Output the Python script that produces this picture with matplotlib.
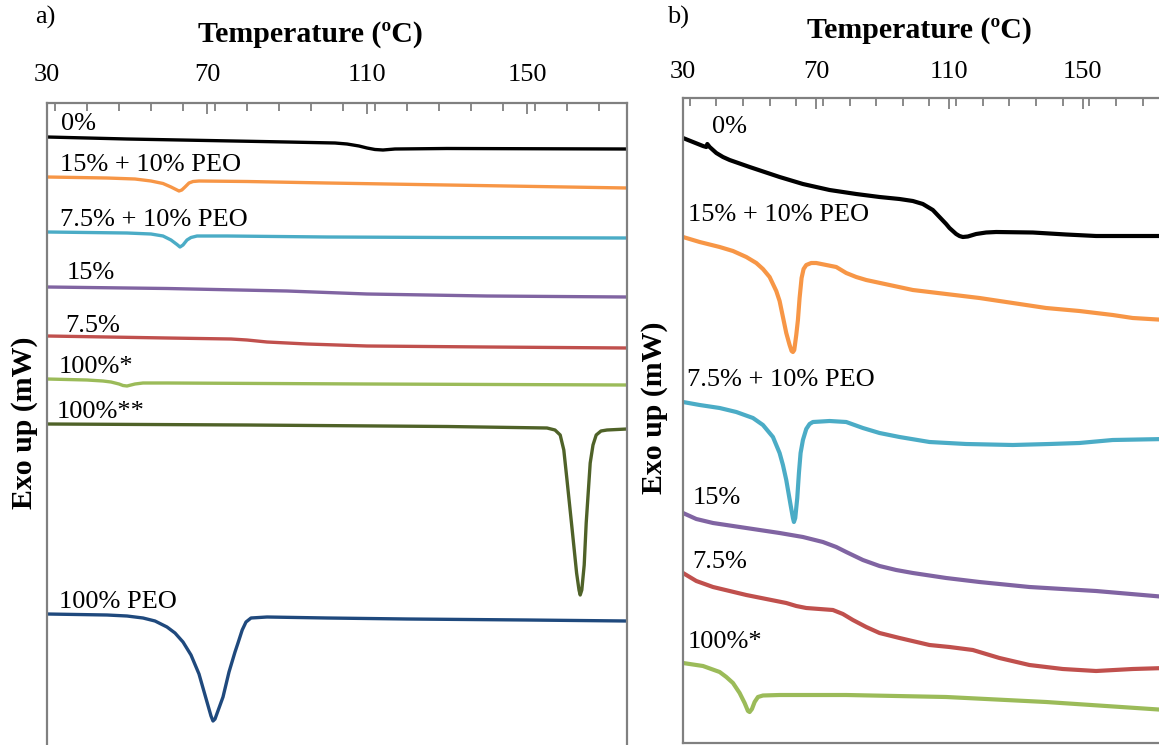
import matplotlib
matplotlib.use('Agg')
import matplotlib.pyplot as plt
from matplotlib.ticker import MultipleLocator

plt.rcParams['font.family'] = ['Liberation Serif', 'DejaVu Serif']

# ---- panel a data (temperature in C, heat flow in arbitrary mW offsets) ----
a_0_T = [30, 50, 70, 90, 102, 105, 108, 110, 112, 114, 117, 130, 175]
a_0_y = [6.23, 6.21, 6.195, 6.18, 6.17, 6.16, 6.14, 6.12, 6.105, 6.10, 6.11, 6.115, 6.11]
a_15peo_T = [30, 45, 52, 56, 59, 61, 62.5, 63, 63.7, 64.5, 65.5, 66.5, 68, 80, 100, 130, 175]
a_15peo_y = [5.83, 5.82, 5.81, 5.79, 5.765, 5.73, 5.70, 5.69, 5.70, 5.73, 5.77, 5.785, 5.79, 5.785, 5.77, 5.75, 5.72]
a_75peo_T = [30, 50, 56, 59, 61, 62.5, 63.25, 64, 65, 66, 67.5, 75, 100, 130, 175]
a_75peo_y = [5.28, 5.27, 5.26, 5.24, 5.20, 5.155, 5.13, 5.15, 5.20, 5.225, 5.24, 5.24, 5.23, 5.225, 5.22]
a_15_T = [30, 60, 90, 110, 140, 175]
a_15_y = [4.73, 4.715, 4.69, 4.66, 4.64, 4.63]
a_75_T = [30, 60, 76, 80, 85, 95, 110, 140, 175]
a_75_y = [4.24, 4.22, 4.21, 4.20, 4.18, 4.16, 4.14, 4.13, 4.12]
a_100s_T = [30, 40, 44, 46, 48, 49, 50, 51, 52, 54, 60, 110, 175]
a_100s_y = [3.81, 3.80, 3.79, 3.78, 3.76, 3.745, 3.74, 3.75, 3.76, 3.77, 3.77, 3.76, 3.75]
a_100ss_T = [30, 80, 130, 155, 157, 158.3, 159.2, 160, 161.3, 162.4, 163, 163.3, 163.7,
             164.3, 164.8, 165.8, 166.5, 167.3, 168.5, 170, 175]
a_100ss_y = [3.36, 3.35, 3.335, 3.32, 3.30, 3.25, 3.10, 2.80, 2.30, 1.87, 1.70, 1.65, 1.70,
             1.95, 2.37, 2.97, 3.15, 3.25, 3.29, 3.30, 3.31]
a_peo_T = [30, 45, 50, 54, 57, 60, 62, 64, 66, 68, 70, 71, 71.5, 72, 73, 74, 75.5, 77,
           77.75, 78.8, 79.75, 81, 85, 100, 120, 150, 175]
a_peo_y = [1.46, 1.45, 1.44, 1.42, 1.39, 1.33, 1.27, 1.18, 1.05, 0.86, 0.58, 0.44, 0.39, 0.41,
           0.52, 0.63, 0.88, 1.08, 1.17, 1.30, 1.38, 1.42, 1.43, 1.42, 1.41, 1.40, 1.39]

# ---- panel b data ----
b_0_T = [30, 33, 36, 37, 37.3, 38, 40, 42, 44, 50, 59, 66, 74, 82, 89, 95, 99, 102, 105,
         107, 109, 110, 112, 113, 114, 115.5, 118, 121, 124, 135, 145, 154, 175]
b_0_y = [6.05, 6.01, 5.97, 5.96, 5.99, 5.96, 5.90, 5.86, 5.83, 5.76, 5.66, 5.59, 5.53, 5.49,
         5.46, 5.44, 5.42, 5.39, 5.33, 5.26, 5.19, 5.15, 5.09, 5.07, 5.06, 5.065, 5.09, 5.105,
         5.11, 5.105, 5.085, 5.07, 5.07]
b_15peo_T = [30, 35, 41, 45, 49, 52, 54, 56, 58, 59, 60, 61, 62, 62.6, 63, 63.4, 64, 64.5,
             65, 65.6, 66.2, 67, 68.5, 70, 73, 76, 79, 82, 85, 92, 99, 109, 119, 129, 139,
             149, 159, 165, 175]
b_15peo_y = [5.06, 5.01, 4.96, 4.92, 4.86, 4.80, 4.74, 4.66, 4.52, 4.42, 4.26, 4.10, 3.98,
             3.92, 3.91, 3.93, 4.08, 4.23, 4.45, 4.65, 4.74, 4.78, 4.80, 4.80, 4.78, 4.76,
             4.70, 4.66, 4.63, 4.58, 4.53, 4.49, 4.45, 4.40, 4.35, 4.32, 4.28, 4.25, 4.23]
b_75peo_T = [30, 35, 41, 46, 51, 54, 57, 59, 60, 61, 62.3, 63, 63.3, 63.7, 64.3, 64.8, 65.3,
             66, 67, 68, 69, 74, 79, 84, 89, 95, 104, 115, 129, 140, 149, 159, 175]
b_75peo_y = [3.41, 3.38, 3.35, 3.31, 3.25, 3.18, 3.06, 2.90, 2.78, 2.63, 2.38, 2.25, 2.21,
             2.25, 2.45, 2.70, 2.90, 3.03, 3.14, 3.19, 3.21, 3.22, 3.21, 3.15, 3.10, 3.06,
             3.01, 2.99, 2.98, 2.99, 3.00, 3.03, 3.04]
b_15_T = [30, 34, 39, 49, 59, 66, 72, 76, 79, 84, 89, 94, 99, 109, 119, 134, 154, 175]
b_15_y = [2.30, 2.24, 2.20, 2.15, 2.10, 2.06, 2.01, 1.96, 1.91, 1.83, 1.77, 1.73, 1.70, 1.65,
          1.61, 1.56, 1.52, 1.46]
b_75_T = [30, 34, 39, 44, 49, 55, 61, 64, 67, 71, 75, 78, 81, 85, 89, 95, 104, 110, 117, 125,
          134, 144, 154, 165, 175]
b_75_y = [1.70, 1.62, 1.56, 1.52, 1.48, 1.44, 1.40, 1.37, 1.35, 1.34, 1.33, 1.29, 1.23, 1.16,
          1.10, 1.05, 0.98, 0.96, 0.93, 0.85, 0.78, 0.74, 0.72, 0.74, 0.75]
b_100s_T = [30, 36, 41, 43, 45, 47, 48.5, 49.5, 50, 50.7, 51.5, 52.5, 54, 59, 79, 109, 139, 175]
b_100s_y = [0.80, 0.77, 0.71, 0.66, 0.60, 0.50, 0.40, 0.32, 0.31, 0.34, 0.41, 0.46, 0.475,
            0.48, 0.48, 0.46, 0.41, 0.33]

labels_a = ['0%', '15% + 10% PEO', '7.5% + 10% PEO', '15%', '7.5%', '100%*', '100%**', '100% PEO']
labels_b = ['0%', '15% + 10% PEO', '7.5% + 10% PEO', '15%', '7.5%', '100%*']
ticks = [30, 70, 110, 150]

colors = {
    '0%': '#000000',
    '15% + 10% PEO': '#F79646',
    '7.5% + 10% PEO': '#4BACC6',
    '15%': '#8064A2',
    '7.5%': '#C0504D',
    '100%*': '#9BBB59',
    '100%**': '#4F6228',
    '100% PEO': '#1F497D',
}

series_a = [(a_0_T, a_0_y), (a_15peo_T, a_15peo_y), (a_75peo_T, a_75peo_y), (a_15_T, a_15_y),
            (a_75_T, a_75_y), (a_100s_T, a_100s_y), (a_100ss_T, a_100ss_y), (a_peo_T, a_peo_y)]
series_b = [(b_0_T, b_0_y), (b_15peo_T, b_15peo_y), (b_75peo_T, b_75peo_y), (b_15_T, b_15_y),
            (b_75_T, b_75_y), (b_100s_T, b_100s_y)]

# where the curve names sit (T, y)
pos_a = [(33.5, 6.36), (33.25, 5.95), (33.25, 5.40), (35, 4.87), (34.5, 4.34), (33, 3.93), (32.5, 3.48), (33, 1.58)]
pos_b = [(38.7, 6.16), (31.5, 5.28), (31.2, 3.63), (33, 2.45), (32.7, 1.81), (31.5, 1.01)]

W, H = 1159, 745
fig = plt.figure(figsize=(W / 100, H / 100), dpi=100)

ax_a = fig.add_axes([47 / W, 1 - 760 / H, 580 / W, 657 / H])
ax_b = fig.add_axes([683 / W, 1 - 743 / H, 483 / W, 645 / H])


def style_axis(ax, ymax, pad):
    ax.set_xlim(30, 175)
    ax.set_ylim(0, ymax)
    ax.xaxis.tick_top()
    ax.set_xticks(ticks)
    ax.xaxis.set_minor_locator(MultipleLocator(8))
    ax.tick_params(axis='x', which='major', direction='in', length=8, width=1.3,
                   color='#808080', labelsize=19, pad=pad)
    ax.tick_params(axis='x', which='minor', direction='in', length=6, width=1.3, color='#808080')
    ax.set_yticks([])
    for sp in ax.spines.values():
        sp.set_color('#808080')
        sp.set_linewidth(1.6)


style_axis(ax_a, 6.57, 12)
for (T, y), name, (tx, ty) in zip(series_a, labels_a, pos_a):
    ax_a.plot(T, y, color=colors[name], lw=2.4, solid_capstyle='round', solid_joinstyle='round')
    ax_a.text(tx, ty, name, fontsize=19, ha='left', va='center')

style_axis(ax_b, 6.45, 11)
for (T, y), name, (tx, ty) in zip(series_b, labels_b, pos_b):
    ax_b.plot(T, y, color=colors[name], lw=3.0, solid_capstyle='round', solid_joinstyle='round')
    ax_b.text(tx, ty, name, fontsize=19, ha='left', va='center')

fig.text(35 / W, 1 - 17 / H, 'a)', fontsize=19, ha='left', va='center')
fig.text(667 / W, 1 - 17 / H, 'b)', fontsize=19, ha='left', va='center')
fig.text(310 / W, 1 - 35 / H, 'Temperature (ºC)', fontsize=21.5, fontweight='bold', ha='center', va='center')
fig.text(919 / W, 1 - 30 / H, 'Temperature (ºC)', fontsize=21.5, fontweight='bold', ha='center', va='center')
fig.text(25 / W, 1 - 423 / H, 'Exo up (mW)', fontsize=21.5, fontweight='bold', rotation=90, ha='center', va='center')
fig.text(655 / W, 1 - 408 / H, 'Exo up (mW)', fontsize=21.5, fontweight='bold', rotation=90, ha='center', va='center')

fig.savefig('out.png', dpi=100)
